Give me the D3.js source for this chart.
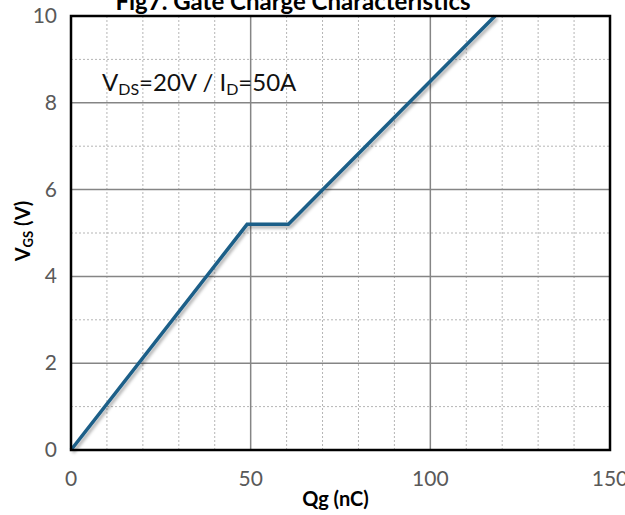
<!DOCTYPE html>
<html>
<head>
<meta charset="utf-8">
<script src="https://cdn.jsdelivr.net/npm/d3@7"></script>
<style>
  body { margin: 0; background: #fff; }
  svg { display: block; font-family: Lato, "Open Sans", sans-serif; }
</style>
</head>
<body>
<div id="chart"></div>
<script>
// Gate charge curve
const qg = [0, 49, 60.5, 118];
const vgs = [0, 5.2, 5.2, 10];

const xTicks = [0, 50, 100, 150];
const yTicks = [0, 2, 4, 6, 8, 10];
const xMinor = [10, 20, 30, 40, 60, 70, 80, 90, 110, 120, 130, 140];
const yMinor = [1, 3, 5, 7, 9];

const W = 625;
const H = 515;
const M = { top: 16, right: 15, bottom: 65, left: 71 };

const svg = d3.select("#chart").append("svg")
  .attr("width", W)
  .attr("height", H);

const x = d3.scaleLinear().domain([0, 150]).range([M.left, W - M.right]);
const y = d3.scaleLinear().domain([0, 10]).range([H - M.bottom, M.top]);

// shadow under the curve
const defs = svg.append("defs");
const f = defs.append("filter").attr("id", "shadow")
  .attr("x", "-10%").attr("y", "-10%").attr("width", "120%").attr("height", "120%");
f.append("feDropShadow")
  .attr("dx", 2).attr("dy", 2.5).attr("stdDeviation", 1.5)
  .attr("flood-color", "#000").attr("flood-opacity", 0.3);

// minor grid (dotted)
svg.append("g").selectAll("line").data(xMinor).enter().append("line")
  .attr("x1", d => x(d)).attr("x2", d => x(d))
  .attr("y1", y(0)).attr("y2", y(10))
  .attr("stroke", "#b5b5b5").attr("stroke-width", 1)
  .attr("stroke-dasharray", "2,2");
svg.append("g").selectAll("line").data(yMinor).enter().append("line")
  .attr("x1", x(0)).attr("x2", x(150))
  .attr("y1", d => y(d)).attr("y2", d => y(d))
  .attr("stroke", "#b5b5b5").attr("stroke-width", 1)
  .attr("stroke-dasharray", "2,2");

// major grid
svg.append("g").selectAll("line").data(xTicks.slice(1, -1)).enter().append("line")
  .attr("x1", d => x(d)).attr("x2", d => x(d))
  .attr("y1", y(0)).attr("y2", y(10))
  .attr("stroke", "#858585").attr("stroke-width", 1.5);
svg.append("g").selectAll("line").data(yTicks.slice(1, -1)).enter().append("line")
  .attr("x1", x(0)).attr("x2", x(150))
  .attr("y1", d => y(d)).attr("y2", d => y(d))
  .attr("stroke", "#858585").attr("stroke-width", 1.5);

// curve
const line = d3.line().x((d, i) => x(qg[i])).y((d, i) => y(vgs[i]));
svg.append("path")
  .datum(qg)
  .attr("d", line)
  .attr("fill", "none")
  .attr("stroke", "#1b5e88")
  .attr("stroke-width", 3.5)
  .attr("stroke-linejoin", "miter")
  .attr("filter", "url(#shadow)");

// frame
svg.append("rect")
  .attr("x", x(0)).attr("y", y(10))
  .attr("width", x(150) - x(0)).attr("height", y(0) - y(10))
  .attr("fill", "none").attr("stroke", "#000").attr("stroke-width", 2.5);

// tick labels
svg.append("g").selectAll("text").data(xTicks).enter().append("text")
  .attr("x", d => x(d)).attr("y", y(0) + 36)
  .attr("text-anchor", "middle")
  .attr("font-size", 21).attr("fill", "#595959")
  .text(d => d);
svg.append("g").selectAll("text").data(yTicks).enter().append("text")
  .attr("x", x(0) - 14).attr("y", d => y(d) + 7)
  .attr("text-anchor", "end")
  .attr("font-size", 21).attr("fill", "#595959")
  .text(d => d);

// title (cut off at the top)
svg.append("text")
  .attr("x", 293).attr("y", 10)
  .attr("text-anchor", "middle")
  .attr("font-size", 24).attr("font-weight", "bold")
  .text("Fig7. Gate Charge Characteristics");

// axis titles
svg.append("text")
  .attr("x", (x(0) + x(150)) / 2 - 5).attr("y", H - 9)
  .attr("text-anchor", "middle")
  .attr("font-size", 20).attr("font-weight", "bold")
  .text("Qg (nC)");

const yl = svg.append("text")
  .attr("transform", "translate(30," + (y(5) - 2) + ") rotate(-90)")
  .attr("text-anchor", "middle")
  .attr("font-size", 20).attr("font-weight", "bold");
yl.append("tspan").text("V");
yl.append("tspan").attr("font-size", 13).attr("dy", 3).text("GS");
yl.append("tspan").attr("dy", -3).text(" (V)");

// test condition
const note = svg.append("text")
  .attr("x", 102).attr("y", 91)
  .attr("font-size", 24).attr("fill", "#111");
note.append("tspan").text("V");
note.append("tspan").attr("font-size", 16).attr("dy", 4).text("DS");
note.append("tspan").attr("dy", -4).text("=20V / I");
note.append("tspan").attr("font-size", 16).attr("dy", 4).text("D");
note.append("tspan").attr("dy", -4).text("=50A");
</script>
</body>
</html>
